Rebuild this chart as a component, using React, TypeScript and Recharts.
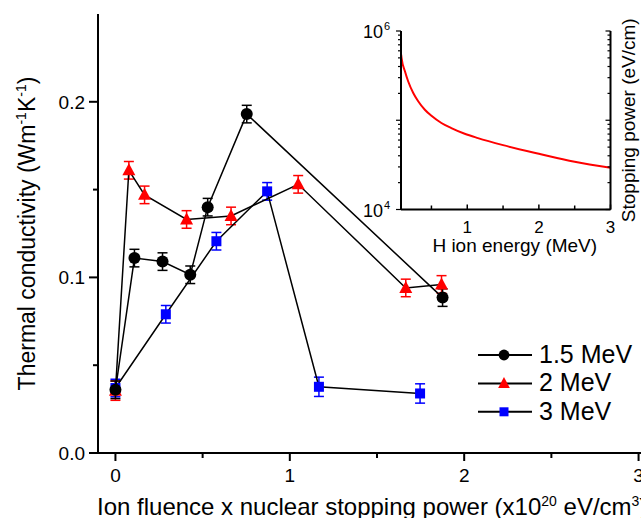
import React from 'react';
import { ScatterChart, Scatter, XAxis, YAxis, ErrorBar, Legend, LineChart, Line } from 'recharts';

const FONT = '"Liberation Sans", Arial, sans-serif';

// main plot: ion fluence x nuclear stopping power (x1e20 eV/cm3) vs thermal conductivity
const fluence15 = [0, 0.109, 0.27, 0.429, 0.529, 0.753, 1.876];
const kappa15 = [0.036, 0.111, 0.109, 0.1015, 0.14, 0.193, 0.0885];
const err15 = [0.005, 0.005, 0.005, 0.005, 0.005, 0.005, 0.005];

const fluence2 = [0, 0.077, 0.167, 0.408, 0.663, 1.048, 1.665, 1.87];
const kappa2 = [0.0355, 0.161, 0.147, 0.133, 0.135, 0.153, 0.094, 0.096];
const err2 = [0.0055, 0.005, 0.005, 0.005, 0.005, 0.005, 0.005, 0.005];

const fluence3 = [0, 0.289, 0.579, 0.87, 1.167, 1.747];
const kappa3 = [0.037, 0.079, 0.1206, 0.149, 0.0377, 0.0339];
const err3 = [0.005, 0.005, 0.005, 0.005, 0.0055, 0.0055];

const xTicks = [0, 0.5, 1, 1.5, 2, 2.5, 3];
const yTicks = [0, 0.05, 0.1, 0.15, 0.2];

// inset: H ion energy (MeV) vs stopping power (eV/cm)
const energy = [0.077, 0.083, 0.131, 0.176, 0.246, 0.315, 0.408, 0.5, 0.639, 0.778, 0.964, 1.149, 1.5, 2.0, 2.5, 3.0];
const stopping = [
  545000, 498000, 352000, 272000, 202000, 163000, 131000, 112000,
  93100, 81800, 70600, 63100, 52600, 42100, 34200, 29300,
];
const insetXTicks = [0.5, 1, 1.5, 2, 2.5, 3];
const insetYTicks = [
  1e4, 2e4, 3e4, 4e4, 5e4, 6e4, 7e4, 8e4, 9e4,
  1e5, 2e5, 3e5, 4e5, 5e5, 6e5, 7e5, 8e5, 9e5, 1e6,
];

const zip = (xs: number[], ys: number[], es: number[]) => xs.map((x, i) => ({ x, y: ys[i], e: es[i] }));
const data15 = zip(fluence15, kappa15, err15);
const data2 = zip(fluence2, kappa2, err2);
const data3 = zip(fluence3, kappa3, err3);
const insetData = energy.map((e, i) => ({ e, s: stopping[i] }));

const series = [
  { name: '1.5 MeV', color: '#000000', shape: 'circle' },
  { name: '2 MeV', color: '#ff0000', shape: 'triangle' },
  { name: '3 MeV', color: '#0000ff', shape: 'square' },
];

const Marker = ({ cx, cy, shape, color, s = 1 }: any) => {
  if (shape === 'circle') return <circle cx={cx} cy={cy} r={6 * s} fill={color} />;
  if (shape === 'triangle')
    return <polygon points={`${cx},${cy - 7 * s} ${cx + 6.5 * s},${cy + 5 * s} ${cx - 6.5 * s},${cy + 5 * s}`} fill={color} />;
  return <rect x={cx - 5 * s} y={cy - 5 * s} width={10 * s} height={10 * s} fill={color} />;
};

const isInt = (v: number) => Math.abs(v - Math.round(v)) < 1e-9;

const BottomTick = ({ x, y, payload }: any) => {
  const major = isInt(payload.value);
  return (
    <g>
      <line x1={x} x2={x} y1={y} y2={y + (major ? 8 : 5)} stroke="#000" strokeWidth={2} />
      {major && (
        <text x={x} y={y + 29} textAnchor="middle" fontSize={19} fontFamily={FONT} fill="#000">
          {payload.value}
        </text>
      )}
    </g>
  );
};

const TopTick = ({ x, y, payload }: any) => {
  const major = isInt(payload.value);
  return <line x1={x} x2={x} y1={y} y2={y + (major ? 8 : 5)} stroke="#000" strokeWidth={2} />;
};

const LeftTick = ({ x, y, payload }: any) => {
  const major = isInt(payload.value * 10);
  return (
    <g>
      <line x1={x - (major ? 9 : 5)} x2={x} y1={y} y2={y} stroke="#000" strokeWidth={2} />
      {major && (
        <text x={x - 13} y={y + 7} textAnchor="end" fontSize={19} fontFamily={FONT} fill="#000">
          {payload.value.toFixed(1)}
        </text>
      )}
    </g>
  );
};

const isDecade = (v: number) => isInt(Math.log10(v));

const InsetBottomTick = ({ x, y, payload }: any) => {
  const major = isInt(payload.value);
  return (
    <g>
      <line x1={x} x2={x} y1={y} y2={y - (major ? 5 : 4)} stroke="#000" strokeWidth={1.5} />
      {major && (
        <text x={x} y={y + 23} textAnchor="middle" fontSize={17} fontFamily={FONT} fill="#000">
          {payload.value}
        </text>
      )}
    </g>
  );
};

const InsetTopTick = ({ x, y, payload }: any) => {
  const major = isInt(payload.value);
  return <line x1={x} x2={x} y1={y} y2={y + (major ? 5 : 4)} stroke="#000" strokeWidth={1.5} />;
};

const InsetLeftTick = ({ x, y, payload }: any) => {
  const v = payload.value;
  const major = isDecade(v);
  const exp = Math.round(Math.log10(v));
  return (
    <g>
      <line x1={x - (major ? 5 : 3)} x2={x} y1={y} y2={y} stroke="#000" strokeWidth={1.2} />
      {major && exp !== 5 && (
        <text x={x - 18} y={y + 7} textAnchor="end" fontSize={18} fontFamily={FONT} fill="#000">
          10
        </text>
      )}
      {major && exp !== 5 && (
        <text x={x - 17} y={y - 1} textAnchor="start" fontSize={11} fontFamily={FONT} fill="#000">
          {exp}
        </text>
      )}
    </g>
  );
};

const InsetRightTick = ({ x, y, payload }: any) => {
  const major = isDecade(payload.value);
  return <line x1={x - (major ? 5 : 3)} x2={x} y1={y} y2={y} stroke="#000" strokeWidth={1.2} />;
};

const renderLegend = () => (
  <svg width={180} height={90}>
    {series.map((s, i) => {
      const cy = 15 + i * 28.4;
      return (
        <g key={s.name}>
          <line x1={8} x2={62} y1={cy} y2={cy} stroke="#000" strokeWidth={2} />
          <Marker cx={34} cy={cy} shape={s.shape} color={s.color} s={0.9} />
          <text x={69} y={cy + 8} fontSize={25} fontFamily={FONT} fill="#000">
            {s.name}
          </text>
        </g>
      );
    })}
  </svg>
);

const XTitle = ({ viewBox }: any) => (
  <text x={viewBox.x - 1} y={viewBox.y + 62} fontSize={24} fontFamily={FONT} fill="#000">
    Ion fluence x nuclear stopping power (x10
    <tspan dy={-9} fontSize={14}>20</tspan>
    <tspan dy={9}> eV/cm</tspan>
    <tspan dy={-9} fontSize={14}>3</tspan>
    <tspan dy={9}>)</tspan>
  </text>
);

const YTitle = ({ viewBox }: any) => (
  <text
    transform={`translate(35,${viewBox.y + viewBox.height / 2}) rotate(-90)`}
    textAnchor="middle"
    fontSize={23}
    fontFamily={FONT}
    fill="#000"
  >
    Thermal conductivity (Wm
    <tspan dy={-9} fontSize={14}>-1</tspan>
    <tspan dy={9}>K</tspan>
    <tspan dy={-9} fontSize={14}>-1</tspan>
    <tspan dy={9}>)</tspan>
  </text>
);

const InsetXTitle = ({ viewBox }: any) => (
  <text x={viewBox.x + viewBox.width / 2 + 9} y={viewBox.y + 42} textAnchor="middle" fontSize={19} fontFamily={FONT} fill="#000">
    H ion energy (MeV)
  </text>
);

const InsetYTitle = ({ viewBox }: any) => (
  <text
    transform={`translate(${viewBox.x + 24},${viewBox.y + viewBox.height / 2}) rotate(-90)`}
    textAnchor="middle"
    fontSize={19}
    fontFamily={FONT}
    fill="#000"
  >
    Stopping power (eV/cm)
  </text>
);

export default function App() {
  const axisLine = { stroke: '#000', strokeWidth: 2 };
  return (
    <div
      style={{
        position: 'absolute',
        left: 0,
        top: 0,
        width: 641,
        height: 518,
        overflow: 'hidden',
        background: '#fff',
        fontFamily: FONT,
      }}
    >
      <ScatterChart width={700} height={518} margin={{ top: 14, right: 44, bottom: 0, left: 0 }}>
        <XAxis
          dataKey="x"
          type="number"
          domain={[-0.1, 3.1]}
          ticks={xTicks}
          interval={0}
          tickSize={0}
          tickMargin={0}
          tickLine={false}
          tick={<BottomTick />}
          axisLine={axisLine}
          height={65}
          allowDataOverflow
          label={{ content: XTitle }}
        />
        <XAxis
          xAxisId="top"
          orientation="top"
          type="number"
          domain={[-0.1, 3.1]}
          ticks={xTicks}
          interval={0}
          tickSize={0}
          tickMargin={0}
          tickLine={false}
          tick={<TopTick />}
          axisLine={axisLine}
          height={0}
          allowDataOverflow
        />
        <YAxis
          dataKey="y"
          type="number"
          domain={[0, 0.25]}
          ticks={yTicks}
          interval={0}
          tickSize={0}
          tickMargin={0}
          tickLine={false}
          tick={<LeftTick />}
          axisLine={axisLine}
          width={98}
          allowDataOverflow
          label={{ content: YTitle }}
        />
        <Legend
          layout="vertical"
          align="center"
          verticalAlign="middle"
          wrapperStyle={{ position: 'absolute', left: 470, top: 340, width: 180, height: 90 }}
          content={renderLegend}
        />
        <Scatter
          name="3 MeV"
          data={data3}
          line={{ stroke: '#000', strokeWidth: 1.5 }}
          lineType="joint"
          shape={(p: any) => <Marker cx={p.cx} cy={p.cy} shape="square" color="#0000ff" />}
          isAnimationActive={false}
        >
          <ErrorBar dataKey="e" direction="y" width={5} stroke="#0000ff" strokeWidth={1.5} isAnimationActive={false} />
        </Scatter>
        <Scatter
          name="2 MeV"
          data={data2}
          line={{ stroke: '#000', strokeWidth: 1.5 }}
          lineType="joint"
          shape={(p: any) => <Marker cx={p.cx} cy={p.cy} shape="triangle" color="#ff0000" />}
          isAnimationActive={false}
        >
          <ErrorBar dataKey="e" direction="y" width={5} stroke="#ff0000" strokeWidth={1.5} isAnimationActive={false} />
        </Scatter>
        <Scatter
          name="1.5 MeV"
          data={data15}
          line={{ stroke: '#000', strokeWidth: 1.5 }}
          lineType="joint"
          shape={(p: any) => <Marker cx={p.cx} cy={p.cy} shape="circle" color="#000000" />}
          isAnimationActive={false}
        >
          <ErrorBar dataKey="e" direction="y" width={5} stroke="#000" strokeWidth={1.5} isAnimationActive={false} />
        </Scatter>
      </ScatterChart>

      <div style={{ position: 'absolute', left: 340, top: 0 }}>
        <LineChart width={301} height={260} data={insetData} margin={{ top: 31, right: 0, bottom: 0, left: 0 }}>
          <XAxis
            dataKey="e"
            type="number"
            domain={[0.075, 3]}
            ticks={insetXTicks}
            interval={0}
            tickSize={0}
            tickMargin={0}
            tickLine={false}
            tick={<InsetBottomTick />}
            axisLine={axisLine}
            height={50.5}
            allowDataOverflow
            label={{ content: InsetXTitle }}
          />
          <XAxis
            xAxisId="top"
            orientation="top"
            type="number"
            domain={[0.075, 3]}
            ticks={insetXTicks}
            interval={0}
            tickSize={0}
            tickMargin={0}
            tickLine={false}
            tick={<InsetTopTick />}
            axisLine={axisLine}
            height={0}
            allowDataOverflow
          />
          <YAxis
            dataKey="s"
            type="number"
            scale="log"
            domain={[1e4, 1e6]}
            ticks={insetYTicks}
            interval={0}
            tickSize={0}
            tickMargin={0}
            tickLine={false}
            tick={<InsetLeftTick />}
            axisLine={axisLine}
            width={61}
            allowDataOverflow
          />
          <YAxis
            yAxisId="r"
            orientation="right"
            type="number"
            scale="log"
            domain={[1e4, 1e6]}
            ticks={insetYTicks}
            interval={0}
            tickSize={0}
            tickMargin={0}
            tickLine={false}
            tick={<InsetRightTick />}
            axisLine={axisLine}
            width={30.5}
            allowDataOverflow
            label={{ content: InsetYTitle }}
          />
          <Line dataKey="s" type="monotone" stroke="#ff0000" strokeWidth={2} dot={false} isAnimationActive={false} />
        </LineChart>
      </div>
    </div>
  );
}
